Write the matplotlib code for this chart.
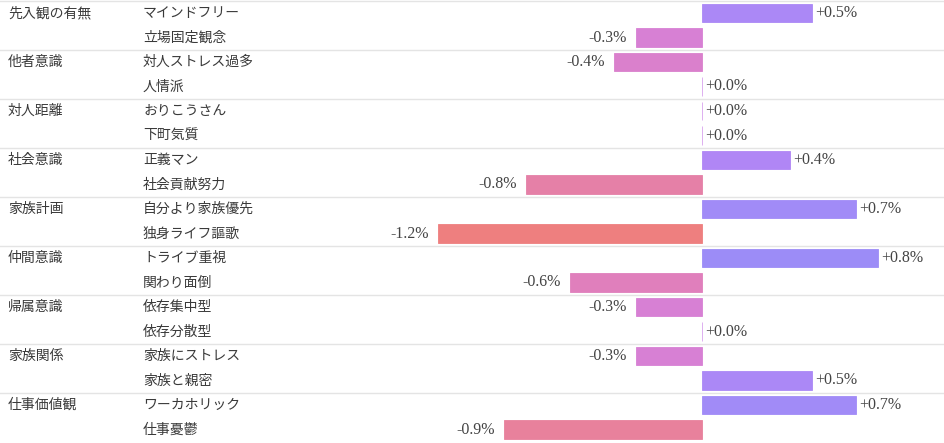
import numpy as np
import matplotlib
matplotlib.use("Agg")
import matplotlib.pyplot as plt
from matplotlib.colors import LinearSegmentedColormap, Normalize

plt.rcParams['font.family'] = ['Noto Sans CJK JP', 'DejaVu Sans']

# Datos: grupos, elementos y valores (%)
grupos = ["先入観の有無", "他者意識", "対人距離", "社会意識", "家族計画",
          "仲間意識", "帰属意識", "家族関係", "仕事価値観"]
elementos = ["マインドフリー", "立場固定観念",
             "対人ストレス過多", "人情派",
             "おりこうさん", "下町気質",
             "正義マン", "社会貢献努力",
             "自分より家族優先", "独身ライフ謳歌",
             "トライブ重視", "関わり面倒",
             "依存集中型", "依存分散型",
             "家族にストレス", "家族と親密",
             "ワーカホリック", "仕事憂鬱"]
valores = [0.5, -0.3,
           -0.4, 0.0,
           0.0, 0.0,
           0.4, -0.8,
           0.7, -1.2,
           0.8, -0.6,
           -0.3, 0.0,
           -0.3, 0.5,
           0.7, -0.9]

# Colores según el valor (rojo -> magenta -> violeta)
cmap = LinearSegmentedColormap.from_list(
    "div", [(0.0, "#ee7f7f"), (0.15, "#e8819c"), (0.30, "#e07fbc"),
            (0.45, "#d780d4"), (0.60, "#d8a2ee"), (0.75, "#b585f5"),
            (1.0, "#9c8cf7")])
norm = Normalize(vmin=-1.2, vmax=0.8)

fig = plt.figure(figsize=(9.44, 4.43), dpi=100)
ax = fig.add_axes([0, 0, 1, 1])

y = np.arange(len(valores))
colores = [cmap(norm(v)) for v in valores]
ax.barh(y, valores, height=0.76, color=colores, edgecolor=colores, linewidth=0.6)

# Etiquetas de valor
for yi, v in zip(y, valores):
    txt = f"{v:+.1f}%"
    if v >= 0:
        ax.text(v + 0.015, yi, txt, ha="left", va="center", fontsize=11.5,
                family="Liberation Serif", color="#444444")
    else:
        ax.text(v - 0.04, yi, txt, ha="right", va="center", fontsize=11.5,
                family="Liberation Serif", color="#444444")

# Nombres de grupo y de elemento
tr = ax.get_yaxis_transform()
for i, nombre in enumerate(elementos):
    ax.text(0.1515, i, nombre, transform=tr, ha="left", va="center",
            fontsize=10, color="#3a3a3a")
for k, g in enumerate(grupos):
    ax.text(0.0085, 2 * k, g, transform=tr, ha="left", va="center",
            fontsize=10, color="#3a3a3a")
    ax.axhline(2 * k - 0.5, color="#e4e4e4", linewidth=1, zorder=0)

ax.set_xlim(-702 / 220, (944 - 702) / 220)
ax.set_ylim((443 - 13) / 24.5, -13 / 24.5)
ax.axis("off")

fig.savefig("out.png", dpi=100)
